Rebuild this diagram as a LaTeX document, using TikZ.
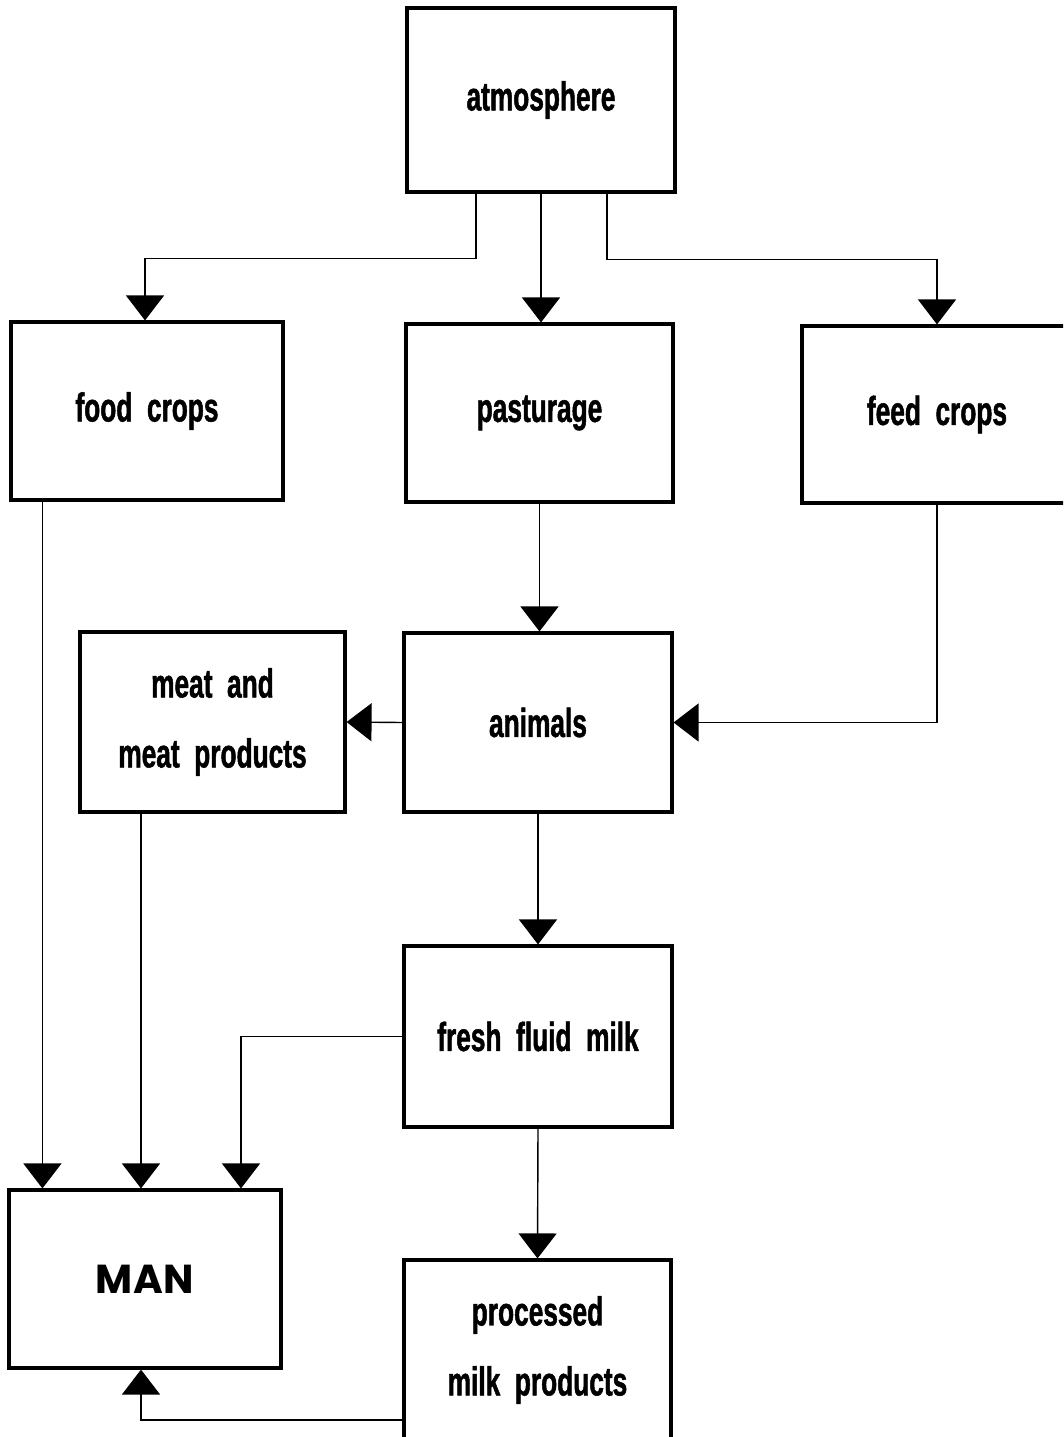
\documentclass[tikz,border=0pt]{standalone}
\usepackage{fontspec}
\usepackage{tikz}
\usetikzlibrary{arrows.meta,positioning}
\newfontfamily\boxfont[FakeStretch=0.65,WordSpace=2,FakeBold=1.2]{Liberation Sans}
\newfontfamily\manfont[LetterSpace=1]{Poppins}
\tikzset{
  box/.style={draw,line width=1.8pt,minimum width=5.36cm,minimum height=3.6cm,
    align=center,font=\boxfont\bfseries\fontsize{23pt}{39.8pt}\selectfont},
  flow/.style={line width=0.8pt,-{Triangle[width=0.76cm,length=0.5cm]}}
}
\begin{document}
\begin{tikzpicture}
\clip (0,0) rectangle (21.26,-28.74);
\node[box,minimum height=3.68cm] (atm) at (10.82,-2.0) {atmosphere};
\node[box,minimum width=5.44cm,minimum height=3.56cm] (food) at (2.94,-8.22) {food crops};
\node[box,minimum width=5.34cm,minimum height=3.56cm] (past) at (10.79,-8.26) {pasturage};
\node[box,minimum width=5.4cm,minimum height=3.54cm] (feed) at (18.74,-8.29) {feed crops};
\node[box,minimum width=5.3cm] (meat) at (4.25,-14.44) {meat and\\meat products};
\node[box,minimum height=3.58cm] (ani) at (10.76,-14.45) {animals};
\node[box,minimum height=3.62cm] (milk) at (10.76,-20.73) {fresh fluid milk};
\node[box,minimum width=5.44cm,minimum height=3.56cm,font=\manfont\bfseries\fontsize{23pt}{26pt}\selectfont] (man) at (2.9,-25.58) {MAN};
\node[box,minimum width=5.34cm] (proc) at (10.75,-27.0) {processed\\milk products};
\draw[flow] ([xshift=-1.3cm]atm.south) -- ++(0,-1.3) -| ([xshift=-0.04cm]food.north);
\draw[flow] (atm.south) -- (atm.south |- past.north);
\draw[flow] ([xshift=1.32cm]atm.south) -- ++(0,-1.32) -| (feed.north);
\draw[flow] (past.south) -- (past.south |- ani.north);
\draw[flow] (feed.south) |- (ani.east);
\draw[flow] (ani.west) -- (meat.east);
\draw[flow] (ani.south) -- (milk.north);
\draw[flow] (milk.south) -- (proc.north);
\draw[flow] ([xshift=0.66cm]food.south west) -- ([xshift=0.66cm]food.south west |- man.north);
\draw[flow] ([xshift=-1.43cm]meat.south) -- ([xshift=-1.43cm]meat.south |- man.north);
\draw[flow] (milk.west) -| ([xshift=1.92cm]man.north);
\draw[flow] ([yshift=-1.4cm]proc.west) -| ([xshift=-0.08cm]man.south);
\end{tikzpicture}
\end{document}
